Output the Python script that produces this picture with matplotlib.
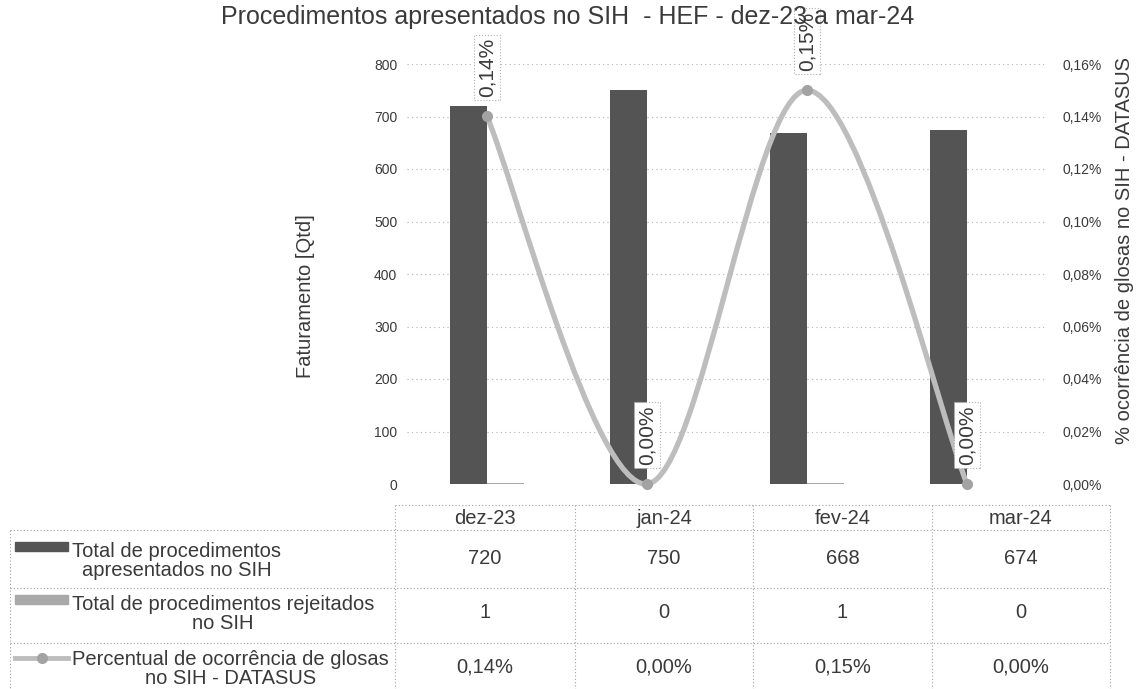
import matplotlib
matplotlib.use('Agg')
import matplotlib.pyplot as plt
from matplotlib.path import Path
from matplotlib.patches import PathPatch, Rectangle
from matplotlib.lines import Line2D
from matplotlib.ticker import FuncFormatter, MultipleLocator
import numpy as np

# data
months = ['dez-23', 'jan-24', 'fev-24', 'mar-24']
apresentados = [720, 750, 668, 674]
rejeitados = [1, 0, 1, 0]
percentual = [0.14, 0.00, 0.15, 0.00]   # in %

series_names = ['Total de procedimentos\napresentados no SIH',
                'Total de procedimentos rejeitados\nno SIH',
                'Percentual de ocorrência de glosas\nno SIH - DATASUS']

TITLE = 'Procedimentos apresentados no SIH  - HEF - dez-23 a mar-24'

DARK = '#545454'
LIGHT = '#a8a8a8'
LINE = '#bdbdbd'
MARK = '#a3a3a3'
TXT = '#3a3a3a'
GRID = '#b4b4b4'

plt.rcParams['font.family'] = ['Liberation Sans', 'DejaVu Sans']

W, H = 1136, 689
fig = plt.figure(figsize=(W / 100, H / 100), dpi=100)


def px(x0, y0, x1, y1):
    return [x0 / W, 1 - y1 / H, (x1 - x0) / W, (y1 - y0) / H]


def pct(v, _=None):
    return f'{v:.2f}%'.replace('.', ',')


# ---- main chart
ax = fig.add_axes(px(407, 64, 1047, 484))
ax2 = ax.twinx()
x = np.arange(len(months))
w = 0.23
ax.bar(x - w / 2, apresentados, w, color=DARK, zorder=2)
ax.bar(x + w / 2, rejeitados, w, color=LIGHT, zorder=2)
ax.set_xlim(-0.5, len(months) - 0.5)
ax.set_ylim(0, 800)
ax.yaxis.set_major_locator(MultipleLocator(100))
ax.grid(axis='y', color=GRID, ls=(0, (1, 3)), lw=0.8)
ax.set_axisbelow(True)
ax.set_xticks([])

ax2.set_ylim(0, 0.16)
ax2.yaxis.set_major_locator(MultipleLocator(0.02))
ax2.yaxis.set_major_formatter(FuncFormatter(pct))
for a in (ax, ax2):
    for s in a.spines.values():
        s.set_visible(False)
    a.tick_params(length=0, labelsize=10, labelcolor=TXT)
ax.tick_params(pad=7)
ax2.tick_params(pad=11)

# smoothed line (Excel-like bezier through the points)
pts = np.column_stack([x, percentual]).astype(float)
ext = np.vstack([pts[0], pts, pts[-1]])
verts = [pts[0]]
codes = [Path.MOVETO]
for i in range(len(pts) - 1):
    p0, p1, p2, p3 = ext[i], ext[i + 1], ext[i + 2], ext[i + 3]
    verts += [p1 + (p2 - p0) / 6, p2 - (p3 - p1) / 6, p2]
    codes += [Path.CURVE4] * 3
ax2.add_patch(PathPatch(Path(verts, codes), fc='none', ec=LINE, lw=3.8,
                        zorder=3, clip_on=False))
ax2.plot(x, percentual, 'o', ms=7, color=MARK, zorder=4, clip_on=False)

for xi, v in zip(x, percentual):
    ax2.annotate(pct(v), (xi, v), xytext=(0, 14), textcoords='offset points',
                 rotation=90, ha='center', va='bottom', fontsize=15, color=TXT,
                 bbox=dict(boxstyle='square,pad=0.15', fc='white', ec='#b0b0b0',
                           ls=':', lw=0.8),
                 zorder=5, annotation_clip=False)

fig.text(568 / W, 1 - 17 / H, TITLE, ha='center', va='center', fontsize=18, color=TXT)
fig.text(306 / W, 1 - 296 / H, 'Faturamento [Qtd]', rotation=90, ha='center',
         va='center', fontsize=14.5, color=TXT)
fig.text(1125 / W, 1 - 250 / H, '% ocorrência de glosas no SIH - DATASUS', rotation=90,
         ha='center', va='center', fontsize=14.5, color=TXT)

# ---- data table below the chart (pixel coordinates)
tab = fig.add_axes([0, 0, 1, 1], zorder=-1)
tab.set_xlim(0, W)
tab.set_ylim(H, 0)
tab.axis('off')
tab.patch.set_alpha(0)

col_edges = [395, 575, 753, 932, 1110]
dot = dict(color='#a0a0a0', ls=(0, (1, 2)), lw=0.8)
tab.plot([col_edges[0], col_edges[-1]], [505, 505], **dot)
for yy in (530, 588, 643):
    tab.plot([10, col_edges[-1]], [yy, yy], **dot)
for xx in col_edges:
    tab.plot([xx, xx], [505, H], **dot)
tab.plot([10, 10], [530, H], **dot)

centers = [(a + b) / 2 for a, b in zip(col_edges[:-1], col_edges[1:])]
row_y = [561, 614, 669]
tsize = 14.5
for c, m in zip(centers, months):
    tab.text(c, 518, m, ha='center', va='center', fontsize=tsize, color=TXT)
rows = [[str(v) for v in apresentados], [str(v) for v in rejeitados],
        [pct(v) for v in percentual]]
for yy, vals in zip(row_y, rows):
    for c, s in zip(centers, vals):
        tab.text(c, yy - 2, s, ha='center', va='center', fontsize=tsize, color=TXT)
for yy, name in zip(row_y, series_names):
    tab.text(72, yy, name, ha='left', va='center', multialignment='center',
             fontsize=tsize, color=TXT, linespacing=1.05)

tab.add_patch(Rectangle((15, row_y[0] - 19), 53, 9, color=DARK))
tab.add_patch(Rectangle((15, row_y[1] - 19), 53, 9, color=LIGHT))
tab.add_line(Line2D([15, 68], [row_y[2] - 11, row_y[2] - 11], color=LINE, lw=3.5))
tab.plot([42], [row_y[2] - 11], 'o', ms=7, color=MARK)

fig.savefig('out.png', dpi=100)
